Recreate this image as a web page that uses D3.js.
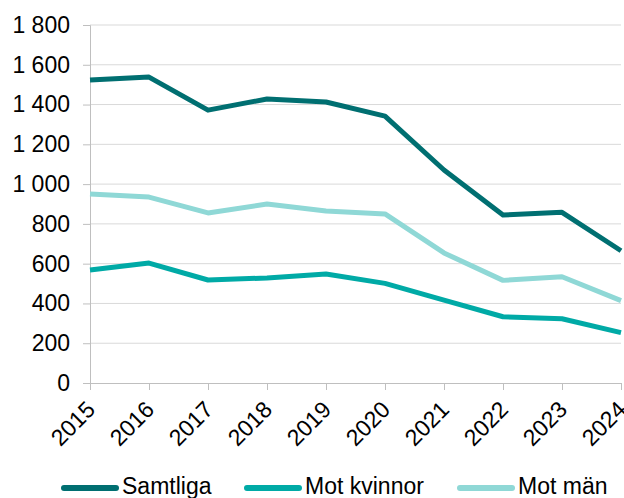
<!DOCTYPE html>
<html>
<head>
<meta charset="utf-8">
<script src="https://cdn.jsdelivr.net/npm/d3@7"></script>
<style>
  body { margin: 0; background: #fff; }
  text { font-family: "Liberation Sans", Arial, sans-serif; fill: #000; }
</style>
</head>
<body>
<div id="chart"></div>
<script>
// Data
const years = ["2015", "2016", "2017", "2018", "2019", "2020", "2021", "2022", "2023", "2024"];
const samtliga = [1523, 1538, 1372, 1428, 1413, 1342, 1071, 845, 858, 665];
const motKvinnor = [568, 603, 518, 528, 548, 501, 417, 333, 323, 253];
const motMan = [950, 935, 855, 900, 865, 850, 654, 516, 534, 414];
const yTicks = [0, 200, 400, 600, 800, 1000, 1200, 1400, 1600, 1800];

const series = [
  { name: "Samtliga", values: samtliga, color: "#006f71" },
  { name: "Mot kvinnor", values: motKvinnor, color: "#00aaa6" },
  { name: "Mot män", values: motMan, color: "#8fd8d6" }
];

const width = 624, height = 498;
const margin = { top: 25, right: 3, bottom: 115, left: 90 };
const fontSize = 23;

const svg = d3.select("#chart").append("svg")
  .attr("width", width)
  .attr("height", height);

const x = d3.scalePoint()
  .domain(years)
  .range([margin.left, width - margin.right]);

const y = d3.scaleLinear()
  .domain([0, 1800])
  .range([height - margin.bottom, margin.top]);

// space as thousands separator
const fmt = d => d3.format(",")(d).replace(/,/g, "\u00a0");

// gridlines
svg.append("g")
  .selectAll("line")
  .data(yTicks.filter(d => d > 0))
  .join("line")
    .attr("x1", margin.left)
    .attr("x2", width - margin.right)
    .attr("y1", d => y(d))
    .attr("y2", d => y(d))
    .attr("stroke", "#d9d9d9")
    .attr("stroke-width", 1);

// y axis
const yAxis = svg.append("g")
  .attr("transform", `translate(${margin.left},0)`)
  .call(d3.axisLeft(y).tickValues(yTicks).tickFormat(fmt).tickSize(7).tickPadding(13));
yAxis.select(".domain").attr("stroke", "#bfbfbf");
yAxis.selectAll(".tick line").attr("stroke", "#bfbfbf");
yAxis.selectAll("text").style("font-size", fontSize + "px").attr("fill", "#000");

// x axis
const xAxis = svg.append("g")
  .attr("transform", `translate(0,${height - margin.bottom})`)
  .call(d3.axisBottom(x).tickSize(7).tickSizeOuter(0));
xAxis.select(".domain").attr("stroke", "#bfbfbf");
xAxis.selectAll(".tick line").attr("stroke", "#bfbfbf");
xAxis.selectAll("text")
  .style("font-size", fontSize + "px")
  .attr("fill", "#000")
  .attr("text-anchor", "end")
  .attr("dy", "0")
  .attr("transform", "translate(-1,21) rotate(-45)");

// lines
const line = d3.line()
  .x((d, i) => x(years[i]))
  .y(d => y(d));

svg.append("g")
  .selectAll("path")
  .data(series)
  .join("path")
    .attr("fill", "none")
    .attr("stroke", d => d.color)
    .attr("stroke-width", 5)
    .attr("stroke-linejoin", "round")
    .attr("d", d => line(d.values));

// legend
const legendX = [62, 245, 458];
const legend = svg.append("g")
  .selectAll("g")
  .data(series)
  .join("g")
    .attr("transform", (d, i) => `translate(${legendX[i]},488)`);

legend.append("line")
  .attr("x1", 2).attr("x2", 54)
  .attr("stroke", d => d.color)
  .attr("stroke-width", 6)
  .attr("stroke-linecap", "round");

legend.append("text")
  .attr("x", 60)
  .attr("dy", "0.27em")
  .style("font-size", fontSize + "px")
  .text(d => d.name);
</script>
</body>
</html>
